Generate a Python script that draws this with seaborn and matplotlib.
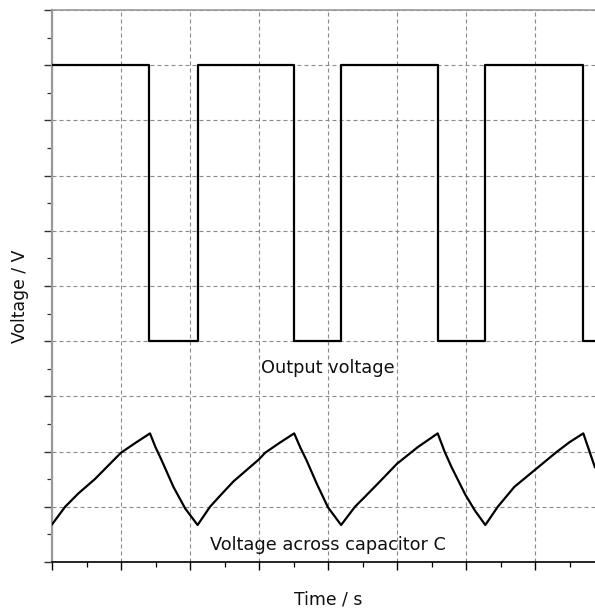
import numpy as np
import pandas as pd
import matplotlib
matplotlib.use("Agg")
import matplotlib.pyplot as plt
from matplotlib.ticker import MultipleLocator, NullFormatter
import seaborn as sns

# ---- data ----
# output (square) voltage: level starting at each edge time
out_t = [0.0, 1.41, 2.11, 3.51, 4.19, 5.59, 6.28, 7.70, 7.95]
out_v = [9, 4, 9, 4, 9, 4, 9, 4, 4]

# voltage across capacitor C
cap_t = [0.00, 0.19, 0.38, 0.62, 1.00, 1.20, 1.42, 1.50, 1.59, 1.76, 1.93, 2.11,
         2.29, 2.45, 2.63, 3.00, 3.09, 3.30, 3.51, 3.60, 3.69, 3.84, 4.00, 4.19,
         4.39, 4.55, 4.73, 5.00, 5.30, 5.59, 5.69, 5.79, 5.99, 6.13, 6.28,
         6.46, 6.70, 7.00, 7.31, 7.50, 7.70, 7.87]
cap_v = [0.68, 1.00, 1.24, 1.50, 1.98, 2.15, 2.33, 2.08, 1.84, 1.36, 0.97, 0.67,
         1.00, 1.22, 1.46, 1.86, 1.98, 2.16, 2.33, 2.07, 1.84, 1.41, 0.99, 0.67,
         1.00, 1.20, 1.43, 1.78, 2.08, 2.33, 2.00, 1.72, 1.22, 0.93, 0.67,
         1.00, 1.36, 1.67, 1.99, 2.17, 2.33, 1.71]

x_major = np.arange(0, 9, 1)
y_major = np.arange(0, 11, 1)

out_df = pd.DataFrame({"t": out_t, "v": out_v})
cap_df = pd.DataFrame({"t": cap_t, "v": cap_v})

sns.set_style("white")
plt.rcParams["font.family"] = ["DejaVu Sans"]

fig = plt.figure(figsize=(5.95, 6.08), dpi=100)
ax = fig.add_axes([52 / 595, 46 / 608, 552 / 595, 552 / 608])

sns.lineplot(data=out_df, x="t", y="v", ax=ax, color="black", linewidth=1.6,
             drawstyle="steps-post", sort=False, estimator=None, zorder=3)
sns.lineplot(data=cap_df, x="t", y="v", ax=ax, color="black", linewidth=1.6,
             sort=False, estimator=None, zorder=3)

ax.set_xlim(0, 8)
ax.set_ylim(0, 10)
ax.set_xticks(x_major)
ax.set_yticks(y_major)
ax.xaxis.set_minor_locator(MultipleLocator(0.5))
ax.yaxis.set_minor_locator(MultipleLocator(0.5))
ax.xaxis.set_major_formatter(NullFormatter())
ax.yaxis.set_major_formatter(NullFormatter())

ax.grid(True, which="major", linestyle=(0, (3.6, 2.7)), color="#8a8a8a",
        linewidth=0.8, zorder=1)
ax.set_axisbelow(True)

ax.tick_params(axis="x", which="major", direction="out", length=5.5, width=1.0,
               color="black", bottom=True)
ax.tick_params(axis="x", which="minor", direction="out", length=3.5, width=0.9,
               color="black", bottom=True)
ax.tick_params(axis="y", which="major", direction="out", length=5.5, width=1.0,
               color="#333333", left=True)
ax.tick_params(axis="y", which="minor", direction="out", length=3.5, width=0.9,
               color="#333333", left=True)

ax.spines["right"].set_visible(False)
ax.spines["top"].set_color("#999999")
ax.spines["top"].set_linewidth(1.2)
ax.spines["left"].set_color("#999999")
ax.spines["left"].set_linewidth(1.6)
ax.spines["bottom"].set_color("black")
ax.spines["bottom"].set_linewidth(1.2)

ax.text(4.0, 3.52, "Output voltage", ha="center", va="center", fontsize=12.8,
        color="#111111", zorder=2)
ax.text(4.0, 0.31, "Voltage across capacitor C", ha="center", va="center",
        fontsize=12.8, color="#111111", zorder=2)

ax.set_xlabel("Time / s", fontsize=12.4, color="#111111")
ax.set_ylabel("Voltage / V", fontsize=12.4, color="#111111")
ax.xaxis.set_label_coords(0.501, -0.051)
ax.yaxis.set_label_coords(-0.042, 0.481)

fig.savefig("out.png", dpi=100)
